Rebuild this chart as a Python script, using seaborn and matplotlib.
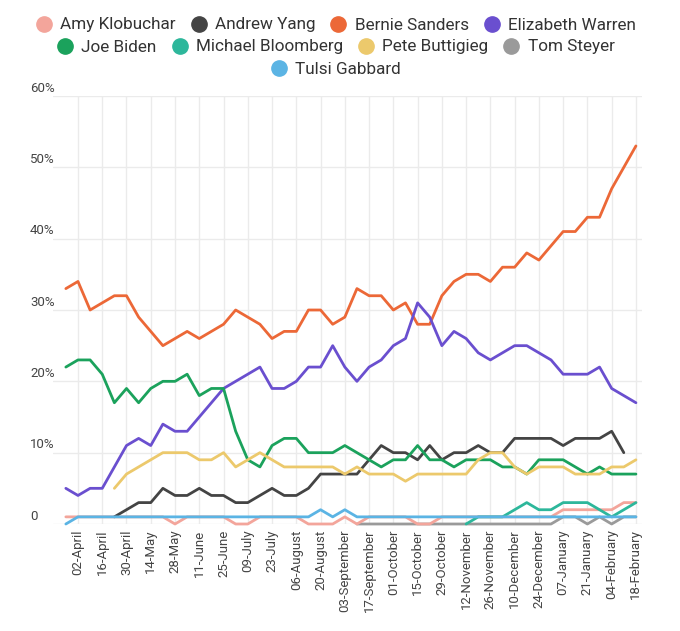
import matplotlib
matplotlib.use("Agg")
import matplotlib.pyplot as plt
import matplotlib.transforms as mtransforms
from matplotlib.lines import Line2D
import seaborn as sns
import pandas as pd

# ---------------- data ----------------
week_dates = pd.date_range("2019-03-26", periods=48, freq="7D")

amy_klobuchar = [1, 1, 1, 1, 1, 1, 1, 1, 1, 0, 1, 1, 1, 1, 0, 0, 1, 1, 1, 1,
                 0, 0, 0, 1, 0, 1, 1, 1, 1, 0, 0, 1, 1, 1, 1, 1, 1, 1, 1, 1,
                 1, 2, 2, 2, 2, 2, 3, 3]
andrew_yang = [None, None, None, None, 1, 2, 3, 3, 5, 4, 4, 5, 4, 4, 3, 3, 4, 5, 4, 4,
               5, 7, 7, 7, 7, 9, 11, 10, 10, 9, 11, 9, 10, 10, 11, 10, 10, 12, 12, 12,
               12, 11, 12, 12, 12, 13, 10, None]
bernie_sanders = [33, 34, 30, 31, 32, 32, 29, 27, 25, 26, 27, 26, 27, 28, 30, 29, 28, 26, 27, 27,
                  30, 30, 28, 29, 33, 32, 32, 30, 31, 28, 28, 32, 34, 35, 35, 34, 36, 36, 38, 37,
                  39, 41, 41, 43, 43, 47, 50, 53]
elizabeth_warren = [5, 4, 5, 5, 8, 11, 12, 11, 14, 13, 13, 15, 17, 19, 20, 21, 22, 19, 19, 20,
                    22, 22, 25, 22, 20, 22, 23, 25, 26, 31, 29, 25, 27, 26, 24, 23, 24, 25, 25, 24,
                    23, 21, 21, 21, 22, 19, 18, 17]
joe_biden = [22, 23, 23, 21, 17, 19, 17, 19, 20, 20, 21, 18, 19, 19, 13, 9, 8, 11, 12, 12,
             10, 10, 10, 11, 10, 9, 8, 9, 9, 11, 9, 9, 8, 9, 9, 9, 8, 8, 7, 9,
             9, 9, 8, 7, 8, 7, 7, 7]
michael_bloomberg = [None, None, None, None, None, None, None, None, None, None,
                     None, None, None, None, None, None, None, None, None, None,
                     None, None, None, None, None, None, None, None, None, None,
                     None, None, None, 0, 1, 1, 1, 2, 3, 2, 2, 3, 3, 3, 2, 1, 2, 3]
pete_buttigieg = [None, None, None, None, 5, 7, 8, 9, 10, 10, 10, 9, 9, 10, 8, 9, 10, 9, 8, 8,
                  8, 8, 8, 7, 8, 7, 7, 7, 6, 7, 7, 7, 7, 7, 9, 10, 10, 8, 7, 8,
                  8, 8, 7, 7, 7, 8, 8, 9]
tom_steyer = [None, None, None, None, None, None, None, None, None, None,
              None, None, None, None, None, None, None, None, None, None,
              None, None, None, None, 0, 0, 0, 0, 0, 0, 0, 0, 0, 0, 0, 0, 0, 0, 0, 0,
              0, 1, 1, 0, 1, 0, 1, 1]
tulsi_gabbard = [0, 1, 1, 1, 1, 1, 1, 1, 1, 1, 1, 1, 1, 1, 1, 1, 1, 1, 1, 1,
                 1, 2, 1, 2, 1, 1, 1, 1, 1, 1, 1, 1, 1, 1, 1, 1, 1, 1, 1, 1,
                 1, 1, 1, 1, 1, 1, 1, 1]

candidates = ["Amy Klobuchar", "Andrew Yang", "Bernie Sanders", "Elizabeth Warren",
              "Joe Biden", "Michael Bloomberg", "Pete Buttigieg", "Tom Steyer",
              "Tulsi Gabbard"]
series = [amy_klobuchar, andrew_yang, bernie_sanders, elizabeth_warren, joe_biden,
          michael_bloomberg, pete_buttigieg, tom_steyer, tulsi_gabbard]
colors = ["#f3a59b", "#444444", "#ec6837", "#6a4fcf", "#1ba25c",
          "#2db79b", "#ecc96c", "#9a9a9a", "#5bb4e4"]
# drawing order (bottom to top)
draw_order = ["Tom Steyer", "Amy Klobuchar", "Andrew Yang", "Bernie Sanders",
              "Elizabeth Warren", "Joe Biden", "Michael Bloomberg",
              "Pete Buttigieg", "Tulsi Gabbard"]

tick_dates = pd.date_range("2019-04-02", periods=24, freq="14D")
tick_labels = ["02-April", "16-April", "30-April", "14-May", "28-May", "11-June",
               "25-June", "09-July", "23-July", "06-August", "20-August",
               "03-September", "17-September", "01-October", "15-October",
               "29-October", "12-November", "26-November", "10-December",
               "24-December", "07-January", "21-January", "04-February",
               "18-February"]
y_ticks = [0, 10, 20, 30, 40, 50, 60]
y_labels = ["0", "10%", "20%", "30%", "40%", "50%", "60%"]

# ---------------- dataframe ----------------
rows = []
for name, vals in zip(candidates, series):
    for d, v in zip(week_dates, vals):
        if v is not None:
            rows.append({"date": d, "value": v, "candidate": name})
df = pd.DataFrame(rows)

# ---------------- plot ----------------
sns.set_theme(style="white")
plt.rcParams["font.family"] = ["Roboto", "DejaVu Sans"]

fig = plt.figure(figsize=(6.8, 6.31), dpi=100)
ax = fig.add_axes([53 / 680, 107 / 631, 589 / 680, 428 / 631])

palette = dict(zip(candidates, colors))
sns.lineplot(data=df, x="date", y="value", hue="candidate", hue_order=draw_order,
             palette=palette, estimator=None, linewidth=2.0, legend=False, ax=ax,
             solid_joinstyle="round", solid_capstyle="round")
for ln in ax.get_lines():
    ln.set_clip_on(False)

ax.set_xlim(pd.Timestamp("2019-03-18 14:00"), pd.Timestamp("2020-02-21 12:00"))
ax.set_ylim(0, 60)

ax.set_xticks(tick_dates)
ax.set_xticklabels(tick_labels, rotation=90, fontsize=9.5, color="#444444",
                   va="top", ha="center")
ax.tick_params(axis="x", length=0, pad=4)
ax.set_yticks(y_ticks)
ax.set_yticklabels([])
ax.tick_params(axis="y", length=0)

ax.grid(True, axis="both", color="#ebebeb", linewidth=1.0)
ax.set_axisbelow(True)
for s in ax.spines.values():
    s.set_visible(False)
ax.set_xlabel("")
ax.set_ylabel("")

trans = mtransforms.blended_transform_factory(ax.transAxes, ax.transData)
for v, lab in zip(y_ticks, y_labels):
    ax.text(-23 / 589, v + 0.6, lab, transform=trans, ha="left", va="baseline",
            fontsize=9.5, color="#444444")

# ---------------- legend (three centred rows) ----------------
def handle(c):
    return Line2D([], [], linestyle="none", marker="o", markersize=11,
                  markerfacecolor=c, markeredgecolor=c)

rows_idx = [[0, 1, 2, 3], [4, 5, 6, 7], [8]]
row_y = [1 - 25 / 631, 1 - 47 / 631, 1 - 69 / 631]
for idx, yy in zip(rows_idx, row_y):
    fig.legend([handle(colors[i]) for i in idx], [candidates[i] for i in idx],
               loc="center", bbox_to_anchor=(0.494, yy), ncol=len(idx),
               frameon=False, fontsize=12.3, handlelength=0.9, handletextpad=0.5,
               columnspacing=0.9, borderpad=0, borderaxespad=0,
               labelcolor="#333333")

fig.savefig("out.png", dpi=100, facecolor="white")
